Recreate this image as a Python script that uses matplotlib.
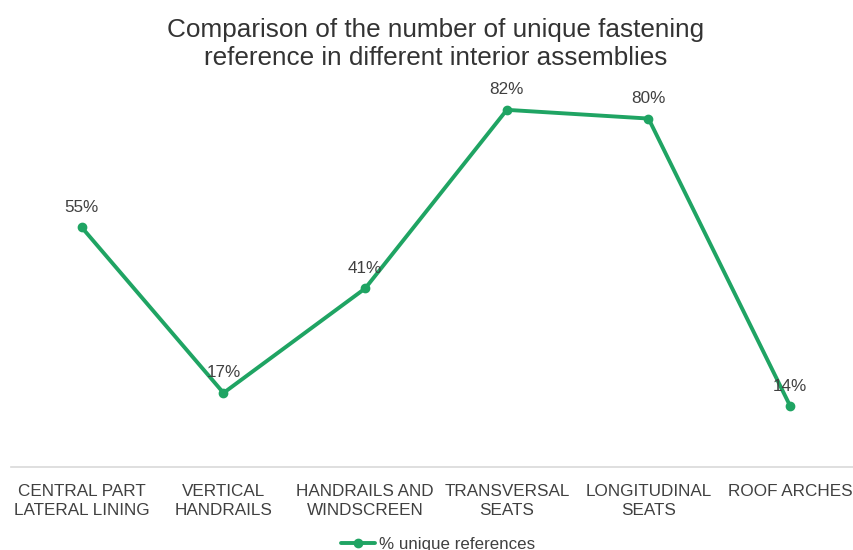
import matplotlib.pyplot as plt

categories = [
    "CENTRAL PART\nLATERAL LINING",
    "VERTICAL\nHANDRAILS",
    "HANDRAILS AND\nWINDSCREEN",
    "TRANSVERSAL\nSEATS",
    "LONGITUDINAL\nSEATS",
    "ROOF ARCHES",
]
unique_pct = [55, 17, 41, 82, 80, 14]
series_name = "% unique references"

GREEN = "#1fa463"
TEXT = "#404040"

plt.rcParams["font.family"] = ["Liberation Sans", "DejaVu Sans"]

fig = plt.figure(figsize=(8.54, 5.5), dpi=100)
ax = fig.add_axes([11 / 854, 1 - 467 / 550, 850 / 854, (467 - 75) / 550])

x = list(range(len(categories)))
ax.plot(x, unique_pct, color=GREEN, lw=2.8, marker="o", ms=6,
        solid_capstyle="round", label=series_name, clip_on=False)

for xi, v in zip(x, unique_pct):
    ax.annotate(f"{v}%", (xi, v), xytext=(0, 9), textcoords="offset points",
                ha="center", va="bottom", fontsize=12.3, color=TEXT)

ax.set_xlim(-0.5, len(categories) - 0.5)
ax.set_ylim(0, 90)
ax.set_xticks(x)
ax.set_xticklabels(categories, fontsize=12.3, color=TEXT, linespacing=1.35)
ax.tick_params(axis="x", length=0, pad=12)
ax.set_yticks([])
for side in ["left", "right", "top"]:
    ax.spines[side].set_visible(False)
ax.spines["bottom"].set_color("#d9d9d9")
ax.spines["bottom"].set_linewidth(1.2)

# two-line title near the top edge
fig.suptitle("Comparison of the number of unique fastening\nreference in different interior assemblies",
             x=436 / 854, y=1 - 18 / 550, va="top", fontsize=18.8, color="#333333", linespacing=1.2)

fig.legend(loc="center", bbox_to_anchor=(438 / 854, 1 - 544 / 550), frameon=False,
           fontsize=12.2, labelcolor=TEXT, handlelength=2.0, handletextpad=0.2)

fig.savefig("out.png", dpi=100)
